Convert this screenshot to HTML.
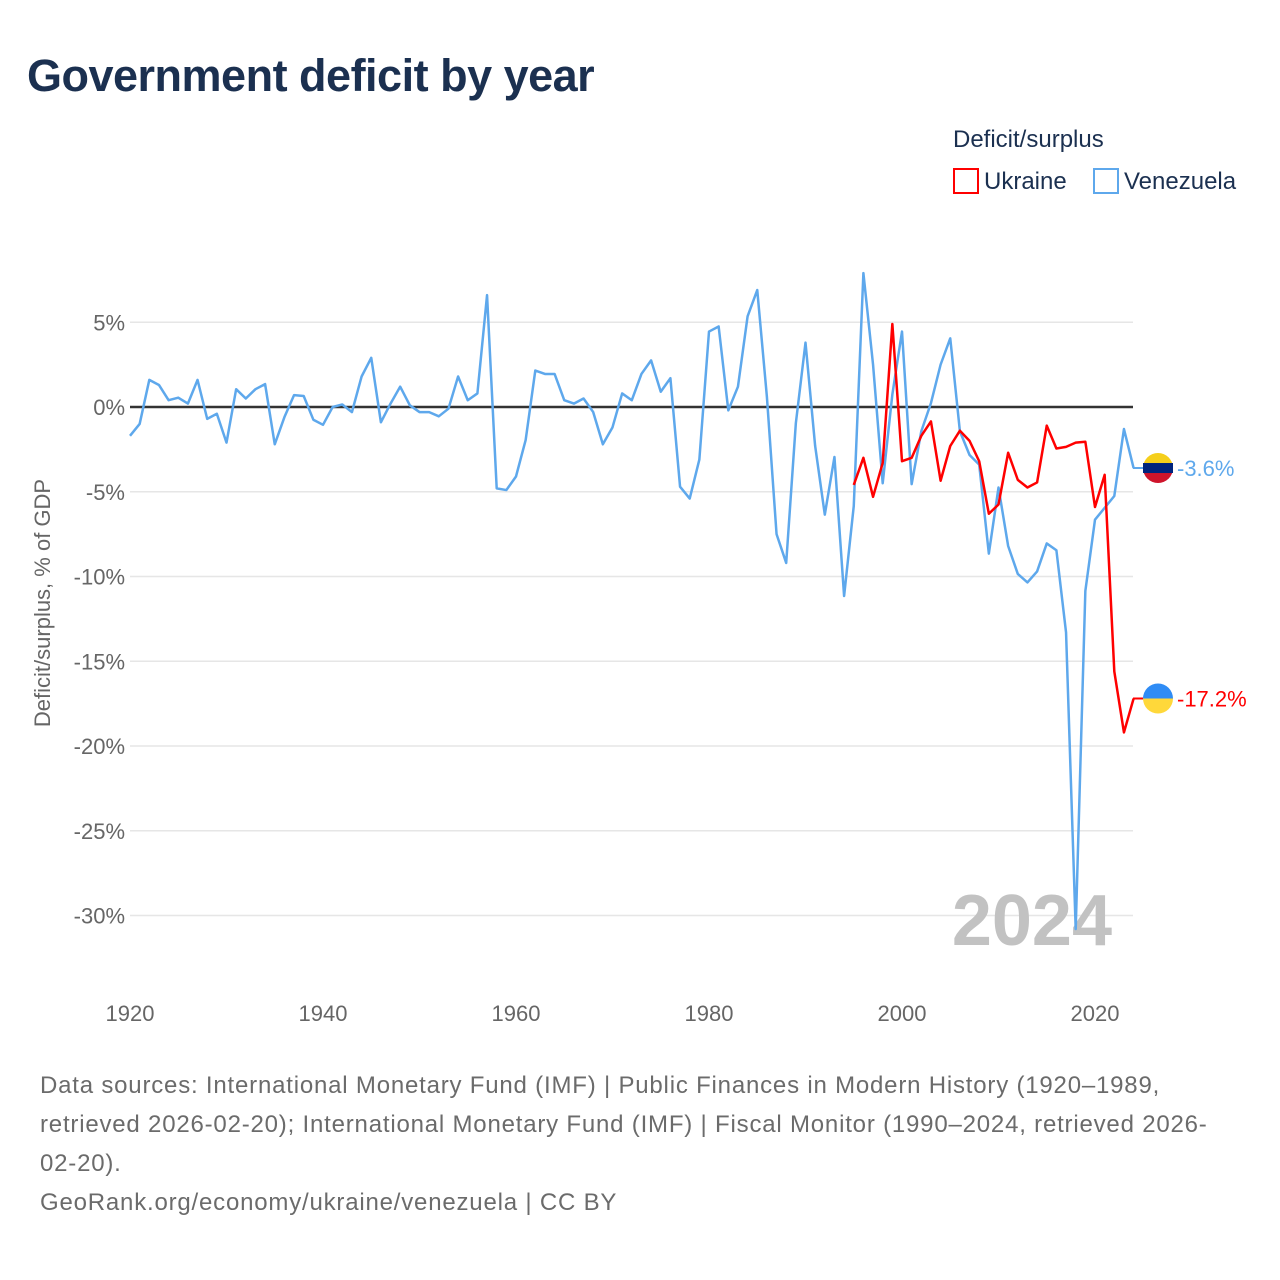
<!DOCTYPE html>
<html><head><meta charset="utf-8">
<style>
body{margin:0;background:#fff;font-family:"Liberation Sans",sans-serif;}
#wrap{position:relative;width:1280px;height:1280px;overflow:hidden;}
h1{position:absolute;left:27px;top:50px;margin:0;font-size:45px;font-weight:bold;color:#1b3050;letter-spacing:-0.5px;}
.foot{position:absolute;left:40px;top:1066px;width:1230px;font-size:24px;line-height:39px;color:#6b6b6b;white-space:nowrap;letter-spacing:0.8px;}
</style></head><body>
<div id="wrap">
<h1>Government deficit by year</h1>
<svg id="chart" width="1280" height="1280" style="position:absolute;left:0;top:0"></svg>
<div class="foot">Data sources: International Monetary Fund (IMF) | Public Finances in Modern History (1920–1989,<br>retrieved 2026-02-20); International Monetary Fund (IMF) | Fiscal Monitor (1990–2024, retrieved 2026-<br>02-20).<br>GeoRank.org/economy/ukraine/venezuela | CC BY</div>
</div>
<script>
const venYears = Array.from({length:105},(_,i)=>1920+i);
const venValues = [-1.7,-1.0,1.6,1.3,0.4,0.55,0.2,1.6,-0.7,-0.4,-2.1,1.05,0.5,1.05,1.35,-2.2,-0.6,0.7,0.65,-0.75,
-1.05,0.0,0.15,-0.3,1.8,2.9,-0.9,0.2,1.2,0.1,-0.3,-0.3,-0.55,-0.1,1.8,0.4,0.8,6.6,-4.8,-4.9,
-4.1,-1.95,2.15,1.95,1.95,0.4,0.2,0.5,-0.3,-2.2,-1.2,0.8,0.4,1.95,2.75,0.9,1.7,-4.7,-5.4,-3.1,
4.45,4.75,-0.2,1.2,5.35,6.9,0.6,-7.5,-9.2,-0.95,3.8,-2.3,-6.35,-2.95,-11.15,-5.85,7.9,2.5,-4.5,0.74,
4.45,-4.55,-1.43,0.23,2.5,4.05,-1.43,-2.83,-3.4,-8.65,-4.75,-8.2,-9.85,-10.35,-9.7,-8.05,-8.45,-13.3,-30.8,-10.85,
-6.65,-5.95,-5.25,-1.3,-3.6];
const ukrYears = Array.from({length:30},(_,i)=>1995+i);
const ukrValues = [-4.6,-3.0,-5.3,-3.3,4.9,-3.2,-3.0,-1.7,-0.85,-4.35,-2.3,-1.4,-2.0,-3.2,-6.3,-5.75,-2.7,-4.3,-4.75,-4.45,
-1.1,-2.45,-2.35,-2.1,-2.05,-5.9,-4.0,-15.6,-19.2,-17.2];
const yTicks = [5,0,-5,-10,-15,-20,-25,-30];
const yTickLabels = ["5%","0%","-5%","-10%","-15%","-20%","-25%","-30%"];
const xTicks = [1920,1940,1960,1980,2000,2020];

const NS="http://www.w3.org/2000/svg";
const svg=document.getElementById('chart');
const X=y=>130+(y-1920)*9.65;
const Y=v=>407-v*16.95;
function mk(t,a,parent){const e=document.createElementNS(NS,t);for(const k in a)e.setAttribute(k,a[k]);(parent||svg).appendChild(e);return e;}

yTicks.forEach((t,i)=>{
  const g=mk('line',{x1:130,x2:1133,y1:Y(t),y2:Y(t),stroke:t===0?'#333':'#e6e6e6','stroke-width':t===0?2.5:1.5});
  
  
  const l=mk('text',{x:125,y:Y(t)+8,'text-anchor':'end','font-size':22,fill:'#666'});
  l.textContent=yTickLabels[i];
  
  
});
xTicks.forEach(t=>{
  const l=mk('text',{x:X(t),y:1021,'text-anchor':'middle','font-size':22,fill:'#666'});
  l.textContent=t;
  
  
});
const at=mk('text',{x:0,y:0,transform:'translate(50,603) rotate(-90)','text-anchor':'middle','font-size':22,fill:'#666'});
at.textContent='Deficit/surplus, % of GDP';



const yr=mk('text',{x:1112,y:945,'text-anchor':'end','font-size':72,'font-weight':'bold',fill:'#c2c2c2'});
yr.textContent='2024';



function line(xs,vs,color,name){
  const p=mk('polyline',{points:xs.map((x,i)=>X(x)+','+Y(vs[i])).join(' '),fill:'none',stroke:color,'stroke-width':2.5,'stroke-linejoin':'round'});
  
  
}
line(venYears,venValues,'#5ea8ec','venezuela-line');
line(ukrYears,ukrValues,'#ff0000','ukraine-line');

function endMarker(v,top,bot,color,label,name){
  const cy=Y(v), cx=1158;
  const g=mk('g',{});
  
  
  mk('line',{x1:1133,x2:cx,y1:cy,y2:cy,stroke:color,'stroke-width':2},g);
  mk('path',{d:`M${cx-15},${cy} A15,15 0 0 1 ${cx+15},${cy} Z`,fill:top},g);
  mk('path',{d:`M${cx-15},${cy} A15,15 0 0 0 ${cx+15},${cy} Z`,fill:bot},g);
  const t=mk('text',{x:1177,y:cy+8,'font-size':22,fill:color},g);
  t.textContent=label;
  return {g,cx,cy};
}
const vm=endMarker(venValues[venValues.length-1],'#f5cf1b','#cf142b','#5ea8ec','-3.6%','venezuela-end-label');
mk('rect',{x:vm.cx-15,y:vm.cy-5,width:30,height:10,fill:'#00247d'},vm.g);
endMarker(ukrValues[ukrValues.length-1],'#2f8cf5','#ffd83a','#ff0000','-17.2%','ukraine-end-label');

const lt=mk('text',{x:953,y:147,'font-size':24,fill:'#1b3050'});
lt.textContent='Deficit/surplus';


[[953,'#ff0000','Ukraine','legend-entry-ukraine'],[1093,'#5ea8ec','Venezuela','legend-entry-venezuela']].forEach(([x,c,n,dn])=>{
  const g=mk('g',{});
  
  
  mk('rect',{x:x+1,y:169,width:24,height:24,fill:'none',stroke:c,'stroke-width':2},g);
  const t=mk('text',{x:x+31,y:189,'font-size':24,fill:'#1b3050'},g);
  t.textContent=n;
});
</script>
</body></html>
